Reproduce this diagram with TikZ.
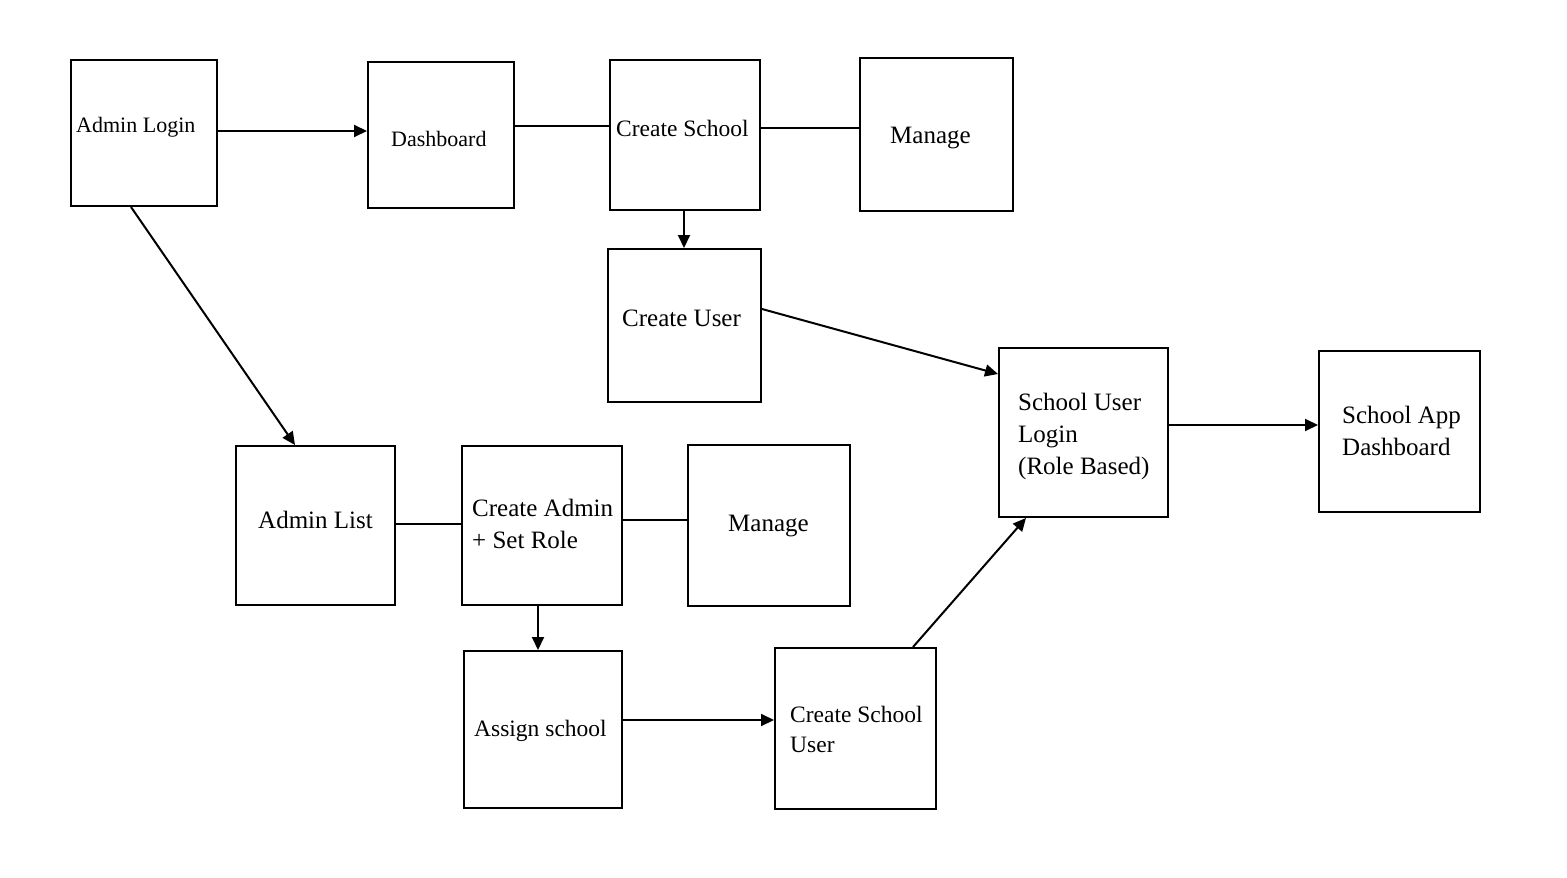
\documentclass[tikz,border=0pt]{standalone}
\usepackage{fontspec}
\setmainfont{Liberation Serif}
\usetikzlibrary{arrows.meta}
\begin{document}
\begin{tikzpicture}[x=1pt,y=-1pt,
  box/.style={draw=black,line width=2pt,rectangle,inner sep=0pt},
  lbl/.style={anchor=base west,inner sep=0pt,align=left},
  conn/.style={draw=black,line width=2pt},
  arr/.style={conn,-{Triangle[length=13pt,width=12pt]}},
  fa/.style={font=\fontsize{22}{26}\selectfont},
  fb/.style={font=\fontsize{23.5}{28}\selectfont},
  fc/.style={font=\fontsize{25}{32}\selectfont}]
\useasboundingbox[fill=white] (0,0) rectangle (1567,878);
% boxes
\node[box,minimum width=146pt,minimum height=146pt] (al) at (144,133) {};
\node[box,minimum width=146pt,minimum height=146pt] (db) at (441,135) {};
\node[box,minimum width=150pt,minimum height=150pt] (cs) at (685,135) {};
\node[box,minimum width=153pt,minimum height=153pt] (m1) at (936.5,134.5) {};
\node[box,minimum width=153pt,minimum height=153pt] (cu) at (684.5,325.5) {};
\node[box,minimum width=169pt,minimum height=169pt] (sul) at (1083.5,432.5) {};
\node[box,minimum width=161pt,minimum height=161pt] (sad) at (1399.5,431.5) {};
\node[box,minimum width=159pt,minimum height=159pt] (alist) at (315.5,525.5) {};
\node[box,minimum width=160pt,minimum height=159pt] (ca) at (542,525.5) {};
\node[box,minimum width=162pt,minimum height=161pt] (m2) at (769,525.5) {};
\node[box,minimum width=158pt,minimum height=157pt] (as) at (543,729.5) {};
\node[box,minimum width=161pt,minimum height=161pt] (csu) at (855.5,728.5) {};
% labels
\node[lbl,fa] (tal) at (76,132) {Admin Login};
\node[lbl,fa] (tdb) at (391,146) {Dashboard};
\node[lbl,fb] (tcs) at (616,136) {Create School};
\node[lbl,fc] (tm1) at (890,143) {Manage};
\node[lbl,fc] (tcu) at (622,326) {Create User};
\node[lbl,fc] (tsul1) at (1018,410) {School User};
\node[lbl,fc] (tsul2) at (1018,442) {Login};
\node[lbl,fc] (tsul3) at (1018,474) {(Role Based)};
\node[lbl,fc] (tsad1) at (1342,423) {School App};
\node[lbl,fc] (tsad2) at (1342,455) {Dashboard};
\node[lbl,fc] (talist) at (258,528) {Admin List};
\node[lbl,fc] (tca1) at (472,516) {Create Admin};
\node[lbl,fc] (tca2) at (472,548) {+ Set Role};
\node[lbl,fc] (tm2) at (728,531) {Manage};
\node[lbl,fb] (tas) at (474,736) {Assign school};
\node[lbl,fb] (tcsu1) at (790,722) {Create School};
\node[lbl,fb] (tcsu2) at (790,752) {User};
% connectors
\draw[arr] ([yshift=2pt]al.east) -- ([yshift=2pt]al.east -| db.west);
\draw[conn] ([yshift=9pt]db.east) -- ([yshift=9pt]db.east -| cs.west);
\draw[conn] ([yshift=7pt]cs.east) -- ([yshift=7pt]cs.east -| m1.west);
\draw[arr] ([xshift=-1pt]cs.south) -- ([xshift=-1pt]cs.south |- cu.north);
\draw[arr] ([yshift=16.5pt]cu.east) -- ([yshift=58.5pt]sul.west);
\draw[arr] ([xshift=-13pt]al.south) -- ([xshift=-20.5pt]alist.north);
\draw[conn] ([yshift=1.5pt]alist.east) -- ([yshift=1.5pt]alist.east -| ca.west);
\draw[conn] ([yshift=5.5pt]ca.east) -- ([yshift=5.5pt]ca.east -| m2.west);
\draw[arr] ([xshift=-4pt]ca.south) -- ([xshift=-4pt]ca.south |- as.north);
\draw[arr] ([yshift=9.5pt]as.east) -- ([yshift=9.5pt]as.east -| csu.west);
\draw[arr] ([xshift=57.5pt]csu.north) -- ([xshift=-57.5pt]sul.south);
\draw[arr] ([yshift=7.5pt]sul.east) -- ([yshift=7.5pt]sul.east -| sad.west);
\end{tikzpicture}
\end{document}
